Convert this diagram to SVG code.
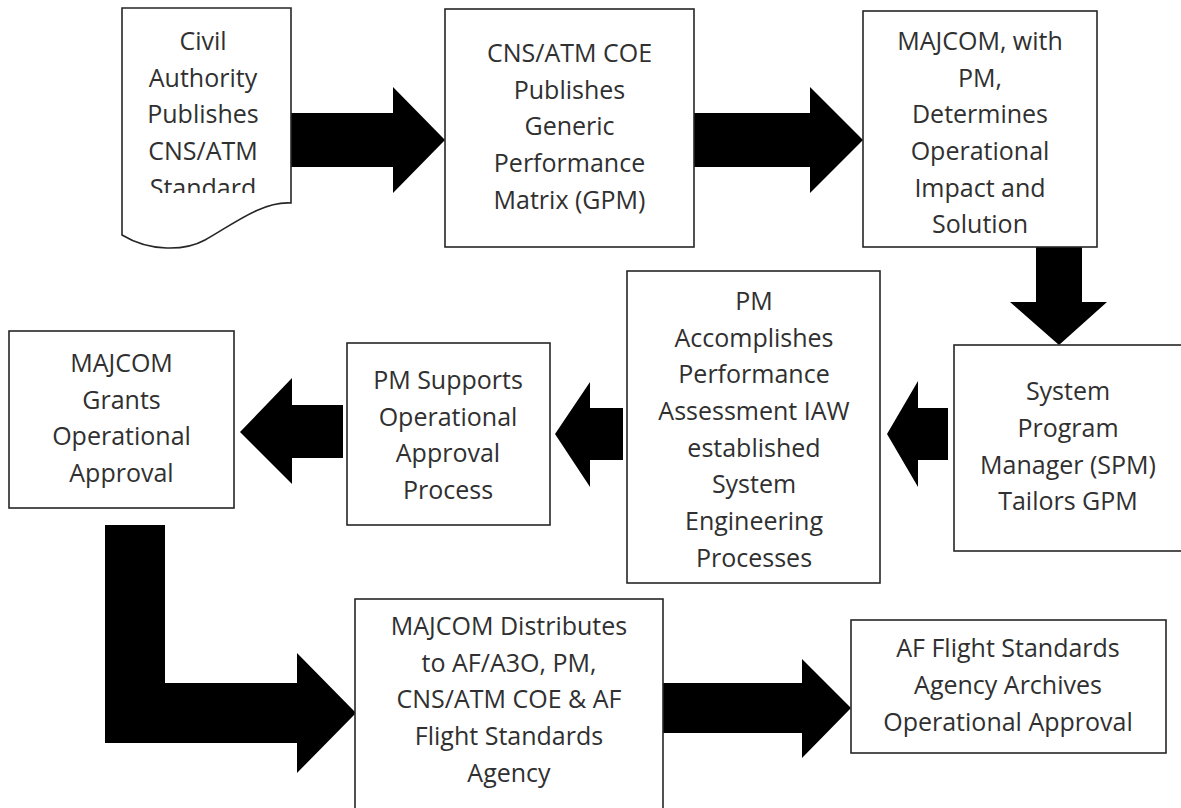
<svg xmlns="http://www.w3.org/2000/svg" width="1181" height="808" viewBox="0 0 1181 808">
<style>
.box{fill:#fff;stroke:#262626;stroke-width:1.6}
.t{font-family:"Open Sans","Liberation Sans",sans-serif;font-size:25px;fill:#303030;text-anchor:middle}
.arr{fill:#000}
</style>
<defs>
<clipPath id="docclip"><rect x="122" y="8" width="169" height="185"/></clipPath>
</defs>
<rect width="1181" height="808" fill="#fff"/>
<g id="connectors">
<path class="arr" d="M291,113 H393 V87 L445,140 L393,193 V167 H291 Z"/>
<path class="arr" d="M694,113 H810 V87 L863,140 L810,193 V167 H694 Z"/>
<path class="arr" d="M1036,247 H1082 V302 H1107 L1059,345 L1010,302 H1036 Z"/>
<path class="arr" d="M948,408 H918 V381 L887,434 L918,487 V460 H948 Z"/>
<path class="arr" d="M623,408 H590 V382 L555,434 L590,487 V460 H623 Z"/>
<path class="arr" d="M343,405 H292 V378 L240,432 L292,484 V458 H343 Z"/>
<path class="arr" d="M105,525 H165 V683 H297 V653 L356,713 L297,773 V743 H105 Z"/>
<path class="arr" d="M662,683 H802 V659 L851,708 L802,758 V733 H662 Z"/>
</g>
<g id="n1">
<path class="box" d="M122,8 H291 V203 C262,201 232,225 205,240 C185,251 150,252 122,235 Z"/>
<g clip-path="url(#docclip)">
<text class="t" x="203" y="50">Civil</text>
<text class="t" x="203" y="86.7">Authority</text>
<text class="t" x="203" y="123.3">Publishes</text>
<text class="t" x="203" y="160">CNS/ATM</text>
<text class="t" x="203" y="196.7">Standard</text>
</g>
</g>
<g id="n2">
<rect class="box" x="445" y="9" width="249" height="238"/>
<text class="t" x="569.5" y="62">CNS/ATM COE</text>
<text class="t" x="569.5" y="98.7">Publishes</text>
<text class="t" x="569.5" y="135.3">Generic</text>
<text class="t" x="569.5" y="172">Performance</text>
<text class="t" x="569.5" y="208.7">Matrix (GPM)</text>
</g>
<g id="n3">
<rect class="box" x="863" y="11" width="234" height="236"/>
<text class="t" x="980" y="50">MAJCOM, with</text>
<text class="t" x="980" y="86.7">PM,</text>
<text class="t" x="980" y="123.3">Determines</text>
<text class="t" x="980" y="160">Operational</text>
<text class="t" x="980" y="196.7">Impact and</text>
<text class="t" x="980" y="233.3">Solution</text>
</g>
<g id="n4">
<rect class="box" x="954" y="345" width="232" height="206"/>
<text class="t" x="1068" y="400">System</text>
<text class="t" x="1068" y="437">Program</text>
<text class="t" x="1068" y="473.5">Manager (SPM)</text>
<text class="t" x="1068" y="510">Tailors GPM</text>
</g>
<g id="n5">
<rect class="box" x="627" y="271" width="253" height="312"/>
<text class="t" x="754" y="310">PM</text>
<text class="t" x="754" y="346.7">Accomplishes</text>
<text class="t" x="754" y="383.3">Performance</text>
<text class="t" x="754" y="420">Assessment IAW</text>
<text class="t" x="754" y="456.7">established</text>
<text class="t" x="754" y="493.3">System</text>
<text class="t" x="754" y="530">Engineering</text>
<text class="t" x="754" y="566.7">Processes</text>
</g>
<g id="n6">
<rect class="box" x="347" y="343" width="203" height="182"/>
<text class="t" x="448" y="389">PM Supports</text>
<text class="t" x="448" y="425.7">Operational</text>
<text class="t" x="448" y="462.3">Approval</text>
<text class="t" x="448" y="499">Process</text>
</g>
<g id="n7">
<rect class="box" x="9" y="331" width="225" height="177"/>
<text class="t" x="121.5" y="372">MAJCOM</text>
<text class="t" x="121.5" y="408.7">Grants</text>
<text class="t" x="121.5" y="445.3">Operational</text>
<text class="t" x="121.5" y="482">Approval</text>
</g>
<g id="n8">
<rect class="box" x="355" y="599" width="308" height="220"/>
<text class="t" x="509" y="635">MAJCOM Distributes</text>
<text class="t" x="509" y="671.7">to AF/A3O, PM,</text>
<text class="t" x="509" y="708.3">CNS/ATM COE &amp; AF</text>
<text class="t" x="509" y="745">Flight Standards</text>
<text class="t" x="509" y="781.7">Agency</text>
</g>
<g id="n9">
<rect class="box" x="851" y="620" width="315" height="133"/>
<text class="t" x="1008" y="657">AF Flight Standards</text>
<text class="t" x="1008" y="694">Agency Archives</text>
<text class="t" x="1008" y="731">Operational Approval</text>
</g>
</svg>
